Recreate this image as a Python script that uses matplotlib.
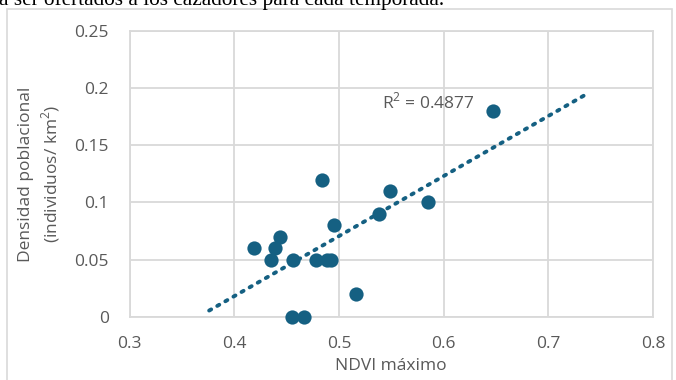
import numpy as np
import matplotlib.pyplot as plt
from matplotlib.patches import Rectangle

# NDVI maximo vs densidad poblacional
ndvi = [0.647, 0.484, 0.549, 0.538, 0.585, 0.495, 0.419, 0.444, 0.439,
        0.435, 0.456, 0.478, 0.489, 0.492, 0.516, 0.455, 0.467]
densidad = [0.18, 0.12, 0.11, 0.09, 0.10, 0.08, 0.06, 0.07, 0.06,
            0.05, 0.05, 0.05, 0.05, 0.05, 0.02, 0.0, 0.0]
x_ticks = [0.3, 0.4, 0.5, 0.6, 0.7, 0.8]
y_ticks = [0, 0.05, 0.1, 0.15, 0.2, 0.25]
x_tick_labels = ["0.3", "0.4", "0.5", "0.6", "0.7", "0.8"]
y_tick_labels = ["0", "0.05", "0.1", "0.15", "0.2", "0.25"]
r2_label = "R$^2$ = 0.4877"
trend_from, trend_to = 0.376, 0.734

blue = "#156082"
grid = "#D9D9D9"
txt = "#595959"
plt.rcParams['font.family'] = ['Open Sans', 'DejaVu Sans']
plt.rcParams['mathtext.fontset'] = 'custom'
plt.rcParams['mathtext.rm'] = 'Open Sans'
fs = 12.5

fig = plt.figure(figsize=(6.76, 3.80), dpi=100)
ax = fig.add_axes([0.1917, 0.1666, 0.966 - 0.1917, 0.9184 - 0.1666])

# outer chart border and the cut-off caption above it
fig.patches.append(Rectangle((7 / 676, -0.05), 665 / 676, 1 - 9 / 380 + 0.05,
                             transform=fig.transFigure, fill=False,
                             edgecolor=grid, lw=1.2))
fig.text(-0.002, 0.987, "a ser ofertados a los cazadores para cada temporada.",
         fontsize=15.3, family='Liberation Serif', color='black', va='baseline')

ax.set_xlim(0.3, 0.8)
ax.set_ylim(0, 0.25)
ax.set_xticks(x_ticks, x_tick_labels)
ax.set_yticks(y_ticks, y_tick_labels)
ax.grid(True, color=grid, lw=1.3)
ax.set_axisbelow(True)
for s in ax.spines.values():
    s.set_color(grid)
    s.set_linewidth(1.3)
ax.tick_params(length=0, labelsize=fs, labelcolor=txt)
ax.tick_params(axis='y', pad=15)
ax.tick_params(axis='x', pad=14)

ax.scatter(ndvi, densidad, s=105, color=blue, zorder=3, clip_on=False, lw=0)

k, b = np.polyfit(ndvi, densidad, 1)
xs = np.array([trend_from, trend_to])
ax.plot(xs, k * xs + b, color=blue, lw=2.8, linestyle=(0, (0.6, 1.8)),
        dash_capstyle='round', zorder=2)

ax.text(0.541, 0.188, r2_label, fontsize=fs, color=txt, va='center')

ax.set_xlabel("NDVI máximo", fontsize=fs, color=txt, labelpad=4)
ax.set_ylabel("Densidad poblacional\n(individuos/ km$^2$)", fontsize=fs,
              color=txt, labelpad=9, linespacing=1.3)

fig.savefig("out.png", dpi=100)
